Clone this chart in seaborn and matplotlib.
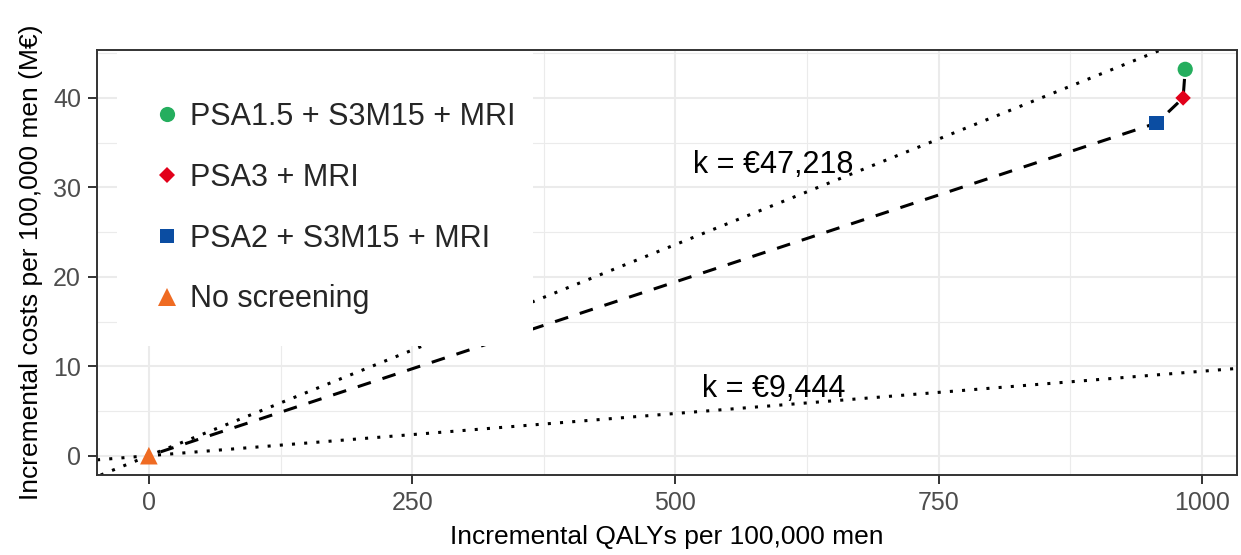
import numpy as np
import pandas as pd
import matplotlib
matplotlib.use("Agg")
import matplotlib.pyplot as plt
import seaborn as sns
from matplotlib.patches import Rectangle
from matplotlib.lines import Line2D
from matplotlib.ticker import MultipleLocator

# ---------------- data ----------------
strategies = ["PSA1.5 + S3M15 + MRI", "PSA3 + MRI", "PSA2 + S3M15 + MRI", "No screening"]
qalys = [984, 982, 957, 0]
costs = [43.2, 40.0, 37.2, 0.0]
frontier_order = ["No screening", "PSA2 + S3M15 + MRI", "PSA3 + MRI", "PSA1.5 + S3M15 + MRI"]

wtp_labels = ["k = \u20ac47,218", "k = \u20ac9,444"]
wtp_values = [47218, 9444]          # euro per QALY
wtp_label_x = [593, 593]
wtp_label_y = [31.6, 6.6]

x_ticks = [0, 250, 500, 750, 1000]
y_ticks = [0, 10, 20, 30, 40]

colors = ["#25AE5E", "#E2001A", "#0B4DA2", "#EF6B22"]
markers = ["o", "D", "s", "^"]
marker_s = [120, 62, 115, 160]

df = pd.DataFrame({"strategy": strategies, "qaly": qalys, "cost": costs})

# ---------------- style ----------------
sns.set_theme(style="white")
plt.rcParams["font.family"] = ["Liberation Sans", "DejaVu Sans"]

fig = plt.figure(figsize=(12.41, 5.55), dpi=100)
ax = fig.add_axes([0.0782, 0.1441, 0.9186, 0.7658])

# grid
ax.set_axisbelow(True)
ax.xaxis.set_minor_locator(MultipleLocator(125))
ax.yaxis.set_minor_locator(MultipleLocator(5))
ax.grid(which="major", color="#EBEBEB", lw=1.5, zorder=0)
ax.grid(which="minor", color="#EBEBEB", lw=0.8, zorder=0)

# willingness-to-pay lines through origin
for k in wtp_values:
    ax.axline((0, 0), slope=k / 1e6, color="black", lw=2.2,
              linestyle=(0, (1, 3)), zorder=2)

# efficiency frontier
fr = df.set_index("strategy").loc[frontier_order].reset_index()
sns.lineplot(data=fr, x="qaly", y="cost", sort=False, estimator=None,
             color="black", lw=2.2, linestyle=(4.5, (4.5, 4)), ax=ax, zorder=2)

# points
for strat, col, m, s in zip(strategies, colors, markers, marker_s):
    sub = df[df["strategy"] == strat]
    sns.scatterplot(data=sub, x="qaly", y="cost", color=col, marker=m, s=s,
                    edgecolor="none", linewidth=0, ax=ax, zorder=3, legend=False)

# annotations
for lab, lx, ly in zip(wtp_labels, wtp_label_x, wtp_label_y):
    ax.text(lx, ly, lab, ha="center", va="baseline", fontsize=22,
            color="black", zorder=6)

# limits (5% expansion like ggplot)
xr = max(qalys) - min(qalys)
yr = max(costs) - min(costs)
ax.set_xlim(min(qalys) - 0.05 * xr, max(qalys) + 0.05 * xr)
ax.set_ylim(min(costs) - 0.05 * yr, max(costs) + 0.05 * yr)
ax.set_xticks(x_ticks)
ax.set_yticks(y_ticks)

# legend with white background box
ax.add_patch(Rectangle((0.0175, 0.3035), 0.365, 0.6965, transform=ax.transAxes,
                       facecolor="white", edgecolor="none", zorder=4))
handles = [Line2D([], [], linestyle="none", marker=m, color=c,
                  markersize=np.sqrt(s), markeredgewidth=0)
           for m, c, s in zip(markers, colors, marker_s)]
leg = ax.legend(handles, strategies, loc="center left",
                bbox_to_anchor=(0.051, 0.628), frameon=False, fontsize=22,
                handlelength=0.8, handletextpad=0.35, labelspacing=1.01,
                borderpad=0, borderaxespad=0)
leg.set_zorder(5)

# spines / ticks
for sp in ax.spines.values():
    sp.set_visible(True)
    sp.set_color("#333333")
    sp.set_linewidth(1.4)
    sp.set_zorder(7)
ax.tick_params(which="major", bottom=True, left=True, length=6.5, width=1.4,
               color="#333333", labelcolor="#4D4D4D", labelsize=18, direction="out")
ax.tick_params(axis="x", which="major", pad=5)
ax.tick_params(axis="y", which="major", pad=5)
ax.tick_params(which="minor", length=0)

ax.set_xlabel("Incremental QALYs per 100,000 men", fontsize=19, color="black")
ax.set_ylabel("Incremental costs per 100,000 men (M\u20ac)", fontsize=19, color="black")
ax.xaxis.set_label_coords(0.5, -0.1176)
ax.xaxis.label.set_va("top")
ax.yaxis.set_label_coords(-0.0474, 0.5)

fig.savefig("out.png", dpi=100, facecolor="white")
